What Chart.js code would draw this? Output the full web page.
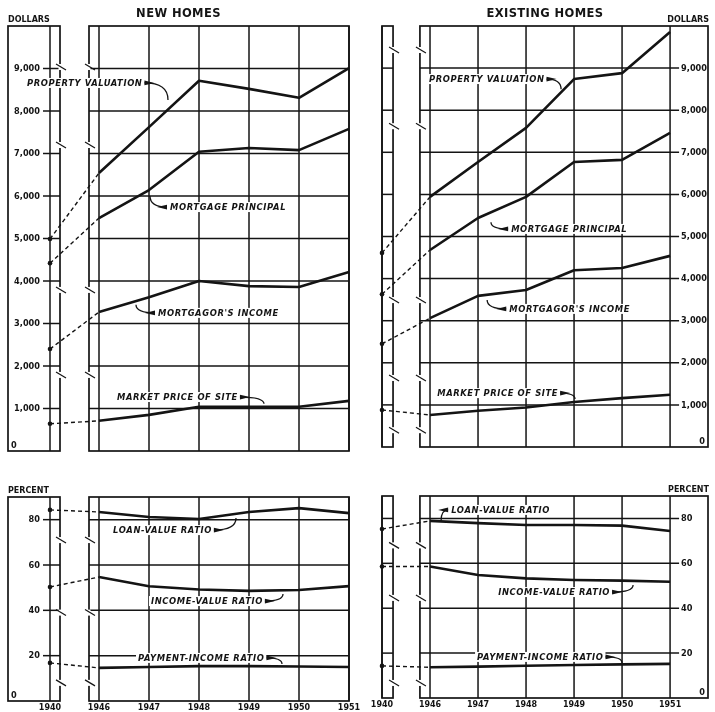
<!DOCTYPE html>
<html>
<head>
<meta charset="utf-8">
<script src="https://cdn.jsdelivr.net/npm/chart.js@4.4.1/dist/chart.umd.min.js"></script>
<style>
  body { margin: 0; background: #fff; }
  #wrap { position: relative; width: 715px; height: 712px; }
  #wrap canvas { position: absolute; left: 0; top: 0; }
</style>
</head>
<body>
<div id="wrap">
  <canvas id="newDollars" width="715" height="712"></canvas>
  <canvas id="oldDollars" width="715" height="712"></canvas>
  <canvas id="newPercent" width="715" height="712"></canvas>
  <canvas id="oldPercent" width="715" height="712"></canvas>
</div>
<script>
const years = [1940, 1946, 1947, 1948, 1949, 1950, 1951];
const axisYears = [1946, 1947, 1948, 1949, 1950, 1951];

// new homes, dollars
const newValuation = [4990, 6540, 7620, 8710, 8520, 8310, 9010];
const newPrincipal = [4420, 5480, 6140, 7040, 7130, 7080, 7580];
const newIncome = [2400, 3270, 3620, 4000, 3880, 3860, 4210];
const newSite = [640, 710, 850, 1040, 1040, 1040, 1180];

// existing homes, dollars
const oldValuation = [4610, 5940, 6770, 7580, 8740, 8880, 9860];
const oldPrincipal = [3630, 4680, 5440, 5940, 6770, 6820, 7460];
const oldIncome = [2450, 3060, 3590, 3730, 4200, 4250, 4540];
const oldSite = [880, 760, 860, 940, 1070, 1160, 1240];

// new homes, percent
const newLoanValue = [84.3, 83.4, 81.2, 80.3, 83.4, 85.1, 82.9];
const newIncomeValue = [50.3, 54.7, 50.6, 49.2, 48.6, 49, 50.7];
const newPaymentIncome = [16.8, 14.6, 15, 15.4, 15.4, 15.2, 15];

// existing homes, percent
const oldLoanValue = [75.3, 78.9, 77.9, 77.1, 77.1, 76.8, 74.4];
const oldIncomeValue = [58.6, 58.6, 54.8, 53.3, 52.6, 52.3, 51.8];
const oldPaymentIncome = [14.3, 13.7, 14, 14.4, 14.7, 15, 15.2];

const dollarTicks = [0, 1000, 2000, 3000, 4000, 5000, 6000, 7000, 8000, 9000];
const percentTicks = [0, 20, 40, 60, 80];

const INK = "#141414";
const FONT = '"DejaVu Sans", sans-serif';

// broken x axis: 1940 sits in its own narrow box left of 1946
const leftSide = { xMin: 1944.18, xMax: 1951, at1940: 1945.02, box: [1944.18, 1945.22], mainLeft: 1945.8, side: "left" };
const rightSide = { xMin: 1945, xMax: 1951.79, at1940: 1945, box: [1945, 1945.23], mainLeft: 1945.79, side: "right" };

function line(ctx, x0, y0, x1, y1) {
  ctx.beginPath();
  ctx.moveTo(x0, y0);
  ctx.lineTo(x1, y1);
  ctx.stroke();
}

function drawNote(ctx, X, Y, n) {
  ctx.font = "italic bold 8.4px " + FONT;
  ctx.letterSpacing = "0.6px";
  ctx.textBaseline = "middle";
  ctx.textAlign = "left";
  const px = X(n.x), py = Y(n.y);
  const w = ctx.measureText(n.text).width;
  ctx.fillStyle = "#fff";
  ctx.fillRect(px - 2, py - 5, w + 4, 10);
  ctx.fillStyle = INK;
  ctx.fillText(n.text, px, py + 0.5);
  ctx.letterSpacing = "0px";

  const dir = n.side === "left" ? -1 : 1;
  const sx = n.side === "left" ? px - 3 : px + w + 2;
  const tx = X(n.tip[0]), ty = Y(n.tip[1]);
  ctx.lineWidth = 1.3;
  ctx.beginPath();
  ctx.moveTo(sx, py);
  ctx.quadraticCurveTo(tx, py, tx, ty);
  ctx.stroke();
  ctx.beginPath();
  ctx.moveTo(sx, py - 2.4);
  ctx.lineTo(sx + dir * 10, py);
  ctx.lineTo(sx, py + 2.4);
  ctx.closePath();
  ctx.fill();
}

const framePlugin = {
  id: "frame",
  beforeDatasetsDraw(chart, args, o) {
    const { ctx } = chart;
    const xs = chart.scales.x, ys = chart.scales.y;
    const X = v => xs.getPixelForValue(v);
    const Y = v => ys.getPixelForValue(v);
    const top = Y(ys.max), bot = Y(0);
    const bx0 = X(o.box[0]), bx1 = X(o.box[1]);
    const mx0 = X(o.mainLeft), mx1 = X(xs.max);
    const x1951 = X(1951);

    ctx.save();
    ctx.strokeStyle = INK;
    ctx.fillStyle = INK;
    ctx.lineCap = "butt";

    // horizontal grid + tick labels
    ctx.font = "bold 8.2px " + FONT;
    ctx.textBaseline = "middle";
    o.ticks.forEach(t => {
      const py = Y(t);
      const label = t.toLocaleString("en-US");
      if (t !== 0) {
        ctx.lineWidth = 1.5;
        if (o.side === "left") {
          line(ctx, bx0 + 35, py, bx1, py);
          line(ctx, mx0, py, mx1, py);
          ctx.textAlign = "right";
          ctx.fillText(label, bx0 + 32, py + 0.5);
        } else {
          line(ctx, bx0, py, bx1, py);
          line(ctx, mx0, py, x1951 + 9, py);
          ctx.textAlign = "left";
          ctx.fillText(label, x1951 + 11, py + 0.5);
        }
      } else {
        if (o.side === "left") {
          ctx.textAlign = "left";
          ctx.fillText(label, bx0 + 3, bot - 5);
        } else {
          ctx.textAlign = "right";
          ctx.fillText(label, mx1 - 3, bot - 5);
        }
      }
    });

    // vertical year lines
    ctx.lineWidth = 1.5;
    line(ctx, X(o.at1940), top, X(o.at1940), bot);
    axisYears.forEach(yr => line(ctx, X(yr), top, X(yr), bot));

    // boxes
    ctx.lineWidth = 1.7;
    ctx.strokeRect(bx0, top, bx1 - bx0, bot - top);
    ctx.strokeRect(mx0, top, mx1 - mx0, bot - top);

    // axis break marks
    ctx.lineWidth = 1.2;
    o.breaks.forEach(v => {
      const py = Y(v);
      [bx1, mx0].forEach(bx => {
        ctx.fillStyle = "#fff";
        ctx.fillRect(bx - 1.5, py - 3, 3, 6);
        ctx.fillStyle = INK;
        line(ctx, bx - 4, py - 3, bx + 6, py + 3);
      });
    });

    // unit label and title
    ctx.font = "bold 8px " + FONT;
    ctx.textBaseline = "alphabetic";
    if (o.side === "left") {
      ctx.textAlign = "left";
      ctx.fillText(o.unit, bx0, top - 4);
    } else {
      ctx.textAlign = "right";
      ctx.fillText(o.unit, mx1 + 1, top - 4);
    }
    if (o.title) {
      ctx.font = "bold 11.5px " + FONT;
      ctx.letterSpacing = "0.4px";
      ctx.textAlign = "center";
      ctx.fillText(o.title, (bx0 + mx1) / 2, 17);
      ctx.letterSpacing = "0px";
    }

    // year labels under the bottom panels
    if (o.yearLabels) {
      ctx.font = "bold 8px " + FONT;
      ctx.textAlign = "center";
      ctx.textBaseline = "middle";
      ctx.fillText("1940", X(o.at1940), bot + 7);
      axisYears.forEach(yr => ctx.fillText(String(yr), X(yr), bot + 7));
    }

    o.notes.forEach(n => drawNote(ctx, X, Y, n));
    ctx.restore();
  }
};

function makePanel(id, side, area, yMax, ticks, series, extra) {
  const datasets = series.map(s => ({
    data: years.map((yr, i) => ({ x: yr === 1940 ? side.at1940 : yr, y: s[i] })),
    borderColor: INK,
    borderWidth: 2.6,
    tension: 0,
    borderJoinStyle: "round",
    pointRadius: c => (c.dataIndex === 0 ? 2.3 : 0),
    pointBackgroundColor: INK,
    pointBorderWidth: 0,
    clip: false,
    segment: {
      borderDash: c => (c.p0DataIndex === 0 ? [4, 3] : undefined),
      borderWidth: c => (c.p0DataIndex === 0 ? 1.4 : undefined)
    }
  }));

  return new Chart(document.getElementById(id), {
    type: "line",
    data: { datasets },
    options: {
      responsive: false,
      animation: false,
      events: [],
      layout: {
        padding: { left: area[0], top: area[1], right: 715 - area[2], bottom: 712 - area[3] }
      },
      scales: {
        x: { type: "linear", min: side.xMin, max: side.xMax, display: false },
        y: { type: "linear", min: 0, max: yMax, display: false }
      },
      plugins: {
        legend: { display: false },
        tooltip: { enabled: false },
        frame: Object.assign({ side: side.side, box: side.box, mainLeft: side.mainLeft, at1940: side.at1940, ticks }, extra)
      }
    },
    plugins: [framePlugin]
  });
}

makePanel("newDollars", leftSide, [8, 26, 349, 451], 10000, dollarTicks,
  [newValuation, newPrincipal, newIncome, newSite],
  {
    title: "NEW HOMES", unit: "DOLLARS",
    breaks: [9035, 7200, 3790, 1790],
    notes: [
      { text: "PROPERTY VALUATION", x: 1944.56, y: 8660, tip: [1947.38, 8260], side: "right" },
      { text: "MORTGAGE PRINCIPAL", x: 1947.42, y: 5740, tip: [1947.02, 6000], side: "left" },
      { text: "MORTGAGOR'S INCOME", x: 1947.18, y: 3250, tip: [1946.74, 3440], side: "left" },
      { text: "MARKET PRICE OF SITE", x: 1946.36, y: 1270, tip: [1949.3, 1110], side: "right" }
    ]
  });

makePanel("oldDollars", rightSide, [382, 26, 708, 447], 10000, dollarTicks,
  [oldValuation, oldPrincipal, oldIncome, oldSite],
  {
    title: "EXISTING HOMES", unit: "DOLLARS",
    breaks: [9430, 7620, 3490, 1640, 400],
    notes: [
      { text: "PROPERTY VALUATION", x: 1945.98, y: 8740, tip: [1948.73, 8500], side: "right" },
      { text: "MORTGAGE PRINCIPAL", x: 1947.69, y: 5180, tip: [1947.27, 5340], side: "left" },
      { text: "MORTGAGOR'S INCOME", x: 1947.65, y: 3280, tip: [1947.19, 3490], side: "left" },
      { text: "MARKET PRICE OF SITE", x: 1946.15, y: 1280, tip: [1949.02, 1140], side: "right" }
    ]
  });

makePanel("newPercent", leftSide, [8, 497, 349, 701], 90, percentTicks,
  [newLoanValue, newIncomeValue, newPaymentIncome],
  {
    unit: "PERCENT", yearLabels: true,
    breaks: [71, 39, 8],
    notes: [
      { text: "LOAN-VALUE RATIO", x: 1946.28, y: 75.4, tip: [1948.74, 80.7], side: "right" },
      { text: "INCOME-VALUE RATIO", x: 1947.04, y: 44.1, tip: [1949.68, 47.2], side: "right" },
      { text: "PAYMENT-INCOME RATIO", x: 1946.78, y: 19, tip: [1949.66, 16.3], side: "right" }
    ]
  });

makePanel("oldPercent", rightSide, [382, 496, 708, 698], 90, percentTicks,
  [oldLoanValue, oldIncomeValue, oldPaymentIncome],
  {
    unit: "PERCENT", yearLabels: true,
    breaks: [68, 44.6, 6.7],
    notes: [
      { text: "LOAN-VALUE RATIO", x: 1946.44, y: 83.8, tip: [1946.23, 78.9], side: "left" },
      { text: "INCOME-VALUE RATIO", x: 1947.42, y: 47.2, tip: [1950.23, 50.4], side: "right" },
      { text: "PAYMENT-INCOME RATIO", x: 1946.98, y: 18.3, tip: [1950.0, 15.6], side: "right" }
    ]
  });
</script>
</body>
</html>
